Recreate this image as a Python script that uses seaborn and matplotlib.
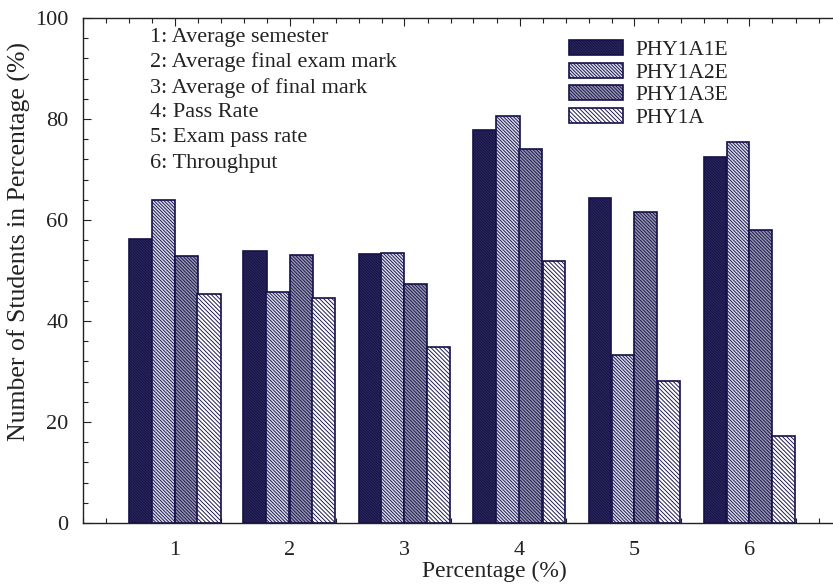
import numpy as np
import pandas as pd
import seaborn as sns
import matplotlib
matplotlib.use("Agg")
import matplotlib.pyplot as plt
from matplotlib.ticker import MultipleLocator

sns.set_style("ticks")
plt.rcParams['font.family'] = ['Liberation Serif', 'DejaVu Serif']
plt.rcParams['hatch.linewidth'] = 0.65

# -------------------------- Data --------------------------
groups = [1, 2, 3, 4, 5, 6]
series = ["PHY1A1E", "PHY1A2E", "PHY1A3E", "PHY1A"]
phy1a1e = [56.2, 53.8, 53.3, 77.8, 64.3, 72.4]
phy1a2e = [63.9, 45.7, 53.4, 80.6, 33.2, 75.4]
phy1a3e = [52.8, 53.0, 47.4, 74.0, 61.5, 58.0]
phy1a = [45.4, 44.6, 34.8, 51.8, 28.1, 17.2]
notes = ["1: Average semester",
         "2: Average final exam mark",
         "3: Average of final mark",
         "4: Pass Rate",
         "5: Exam pass rate",
         "6: Throughput"]

data = pd.DataFrame({
    "group": groups * 4,
    "series": np.repeat(series, len(groups)),
    "value": phy1a1e + phy1a2e + phy1a3e + phy1a,
})

# bar styling per series
faces = ['#2c2858', '#dcdcea', '#9896ae', '#ffffff']
hatches = ['\\' * 12, '\\' * 10, '\\' * 10, '\\' * 8]
edge = '#14104a'

# -------------------------- Plot --------------------------
fig = plt.figure(figsize=(8.33, 5.85), dpi=100)
ax = fig.add_axes([82.5 / 833, 62 / 585, 759 / 833, 505 / 585])

sns.barplot(data=data, x="group", y="value", hue="series", hue_order=series,
            native_scale=True, width=0.8, gap=0, errorbar=None,
            legend=False, ax=ax)

for cont, fc, h in zip(ax.containers, faces, hatches):
    for p in cont:
        p.set_facecolor(fc)
        p.set_edgecolor(edge)
        p.set_hatch(h)
        p.set_linewidth(1.2)

ax.set_xlim(0.2, 6.8)
ax.set_ylim(0, 100)
ax.set_xticks(groups)
ax.set_xticklabels([str(g) for g in groups])
ax.set_yticks(np.arange(0, 101, 20))
ax.xaxis.set_minor_locator(MultipleLocator(0.2))
ax.yaxis.set_minor_locator(MultipleLocator(4))
ax.tick_params(which='both', direction='in', top=True, right=True, width=0.8,
               colors='#222222', labelsize=16, labelcolor='#222222')
ax.tick_params(which='major', length=6)
ax.tick_params(which='minor', length=3.5)
ax.tick_params(axis='x', pad=13)
ax.tick_params(axis='y', pad=10)
for s in ax.spines.values():
    s.set_color('#222222')
    s.set_linewidth(1.0)

ax.set_xlabel("Percentage (%)", fontsize=17, color='#222222')
ax.set_ylabel("Number of Students in Percentage (%)", fontsize=18.5, color='#222222')
ax.xaxis.set_label_coords(0.543, -0.074)
ax.yaxis.set_label_coords(-0.068, 0.558)

for i, t in enumerate(notes):
    ax.text(0.089, 0.962 - i * 0.0499, t, transform=ax.transAxes,
            fontsize=16, va='center', ha='left', color='#222222')

ax.legend(ax.containers, series, loc='upper left',
          bbox_to_anchor=(569 / 833, 1 - 40 / 585), bbox_transform=fig.transFigure,
          frameon=False, borderpad=0, borderaxespad=0, handlelength=2.5,
          handleheight=0.7, handletextpad=0.6, labelspacing=0.12, fontsize=15.5,
          labelcolor='#222222')

fig.savefig("out.png", dpi=100)
